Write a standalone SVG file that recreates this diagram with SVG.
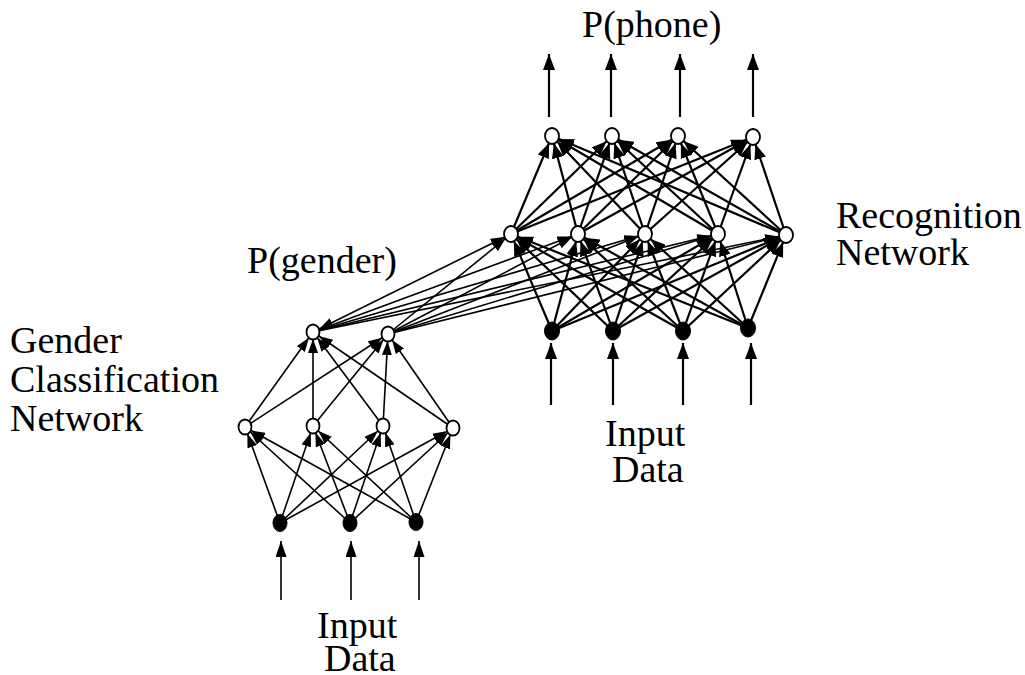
<svg xmlns="http://www.w3.org/2000/svg" width="1025" height="675" viewBox="0 0 1025 675">
<style>
.t{font-family:"Liberation Serif","Times New Roman",serif;font-size:38px;fill:#000}
.c line{stroke:#000;fill:none}
.g line{stroke-width:1.6}
.r line{stroke-width:2.2}
.x line{stroke-width:1.6}
.on{fill:#fff;stroke:#000;stroke-width:1.8}
.fn{fill:#000;stroke:#000;stroke-width:1}
</style>
<defs>
<marker id="ah" markerUnits="userSpaceOnUse" markerWidth="15" markerHeight="12" viewBox="0 0 15 12" refX="22.5" refY="6" orient="auto"><path d="M0,0 L15,6 L0,12 z" fill="#000"/></marker>
<marker id="ahg" markerUnits="userSpaceOnUse" markerWidth="14" markerHeight="10" viewBox="0 0 14 10" refX="21" refY="5" orient="auto"><path d="M0,0 L14,5 L0,10 z" fill="#000"/></marker>
<marker id="ahr" markerUnits="userSpaceOnUse" markerWidth="14" markerHeight="10" viewBox="0 0 14 10" refX="21" refY="5" orient="auto-start-reverse"><path d="M0,0 L14,5 L0,10 z" fill="#000"/></marker>
<marker id="tip" markerUnits="userSpaceOnUse" markerWidth="16" markerHeight="12" viewBox="0 0 16 12" refX="16" refY="6" orient="auto"><path d="M0,0 L16,6 L0,12 z" fill="#000"/></marker>
<marker id="tipg" markerUnits="userSpaceOnUse" markerWidth="16" markerHeight="11" viewBox="0 0 16 11" refX="16" refY="5.5" orient="auto"><path d="M0,0 L16,5.5 L0,11 z" fill="#000"/></marker>
</defs>
<rect width="1025" height="675" fill="#fff"/>
<g id="connectors" class="c">
<g class="g" marker-end="url(#ahg)">
<line x1="280" y1="523" x2="245" y2="427"/><line x1="280" y1="523" x2="313" y2="426"/><line x1="280" y1="523" x2="383" y2="426"/><line x1="280" y1="523" x2="453" y2="428"/>
<line x1="350" y1="523" x2="245" y2="427"/><line x1="350" y1="523" x2="313" y2="426"/><line x1="350" y1="523" x2="383" y2="426"/><line x1="350" y1="523" x2="453" y2="428"/>
<line x1="416" y1="522" x2="245" y2="427"/><line x1="416" y1="522" x2="313" y2="426"/><line x1="416" y1="522" x2="383" y2="426"/><line x1="416" y1="522" x2="453" y2="428"/>
<line x1="245" y1="427" x2="313" y2="332"/><line x1="245" y1="427" x2="388" y2="334"/>
<line x1="313" y1="426" x2="313" y2="332"/><line x1="313" y1="426" x2="388" y2="334"/>
<line x1="383" y1="426" x2="313" y2="332"/><line x1="383" y1="426" x2="388" y2="334"/>
<line x1="453" y1="428" x2="313" y2="332"/><line x1="453" y1="428" x2="388" y2="334"/>
</g>
<g class="g" marker-end="url(#tipg)">
<line x1="281" y1="600" x2="281" y2="541"/><line x1="351" y1="600" x2="351" y2="541"/><line x1="419" y1="600" x2="419" y2="541"/>
</g>
<g class="x" marker-end="url(#ahg)">
<line x1="313" y1="332" x2="511" y2="234" marker-start="url(#ahr)"/><line x1="313" y1="332" x2="578" y2="234"/><line x1="313" y1="332" x2="645" y2="234"/><line x1="313" y1="332" x2="718" y2="234"/><line x1="313" y1="332" x2="786" y2="235"/>
<line x1="388" y1="334" x2="511" y2="234"/><line x1="388" y1="334" x2="578" y2="234"/><line x1="388" y1="334" x2="645" y2="234"/><line x1="388" y1="334" x2="718" y2="234"/><line x1="388" y1="334" x2="786" y2="235"/>
</g>
<g class="r" marker-end="url(#ah)">
<line x1="552" y1="331" x2="511" y2="234"/><line x1="552" y1="331" x2="578" y2="234"/><line x1="552" y1="331" x2="645" y2="234"/><line x1="552" y1="331" x2="718" y2="234"/><line x1="552" y1="331" x2="786" y2="235"/>
<line x1="613" y1="331" x2="511" y2="234"/><line x1="613" y1="331" x2="578" y2="234"/><line x1="613" y1="331" x2="645" y2="234"/><line x1="613" y1="331" x2="718" y2="234"/><line x1="613" y1="331" x2="786" y2="235"/>
<line x1="683" y1="331" x2="511" y2="234"/><line x1="683" y1="331" x2="578" y2="234"/><line x1="683" y1="331" x2="645" y2="234"/><line x1="683" y1="331" x2="718" y2="234"/><line x1="683" y1="331" x2="786" y2="235"/>
<line x1="748" y1="328" x2="511" y2="234"/><line x1="748" y1="328" x2="578" y2="234"/><line x1="748" y1="328" x2="645" y2="234"/><line x1="748" y1="328" x2="718" y2="234"/><line x1="748" y1="328" x2="786" y2="235"/>
<line x1="511" y1="234" x2="552" y2="136"/><line x1="511" y1="234" x2="612" y2="136"/><line x1="511" y1="234" x2="678" y2="136"/><line x1="511" y1="234" x2="753" y2="137"/>
<line x1="578" y1="234" x2="552" y2="136"/><line x1="578" y1="234" x2="612" y2="136"/><line x1="578" y1="234" x2="678" y2="136"/><line x1="578" y1="234" x2="753" y2="137"/>
<line x1="645" y1="234" x2="552" y2="136"/><line x1="645" y1="234" x2="612" y2="136"/><line x1="645" y1="234" x2="678" y2="136"/><line x1="645" y1="234" x2="753" y2="137"/>
<line x1="718" y1="234" x2="552" y2="136"/><line x1="718" y1="234" x2="612" y2="136"/><line x1="718" y1="234" x2="678" y2="136"/><line x1="718" y1="234" x2="753" y2="137"/>
<line x1="786" y1="235" x2="552" y2="136"/><line x1="786" y1="235" x2="612" y2="136"/><line x1="786" y1="235" x2="678" y2="136"/><line x1="786" y1="235" x2="753" y2="137"/>
</g>
<g class="r" marker-end="url(#tip)">
<line x1="549" y1="117" x2="549" y2="54"/><line x1="611" y1="117" x2="611" y2="54"/><line x1="680" y1="117" x2="680" y2="54"/><line x1="753" y1="117" x2="753" y2="54"/>
<line x1="551" y1="405" x2="551" y2="343"/><line x1="613" y1="405" x2="613" y2="343"/><line x1="683" y1="405" x2="683" y2="343"/><line x1="751" y1="405" x2="751" y2="343"/>
</g>
</g>
<g id="gi1"><ellipse class="fn" cx="280" cy="523" rx="7" ry="8.5"/></g>
<g id="gi2"><ellipse class="fn" cx="350" cy="523" rx="7" ry="8.5"/></g>
<g id="gi3"><ellipse class="fn" cx="416" cy="522" rx="7" ry="8.5"/></g>
<g id="gh1"><ellipse class="on" cx="245" cy="427" rx="6.5" ry="7.5"/></g>
<g id="gh2"><ellipse class="on" cx="313" cy="426" rx="6.5" ry="7.5"/></g>
<g id="gh3"><ellipse class="on" cx="383" cy="426" rx="6.5" ry="7.5"/></g>
<g id="gh4"><ellipse class="on" cx="453" cy="428" rx="6.5" ry="7.5"/></g>
<g id="go1"><ellipse class="on" cx="313" cy="332" rx="6.5" ry="7.5"/></g>
<g id="go2"><ellipse class="on" cx="388" cy="334" rx="6.5" ry="7.5"/></g>
<g id="ri1"><ellipse class="fn" cx="552" cy="331" rx="7.5" ry="9"/></g>
<g id="ri2"><ellipse class="fn" cx="613" cy="331" rx="7.5" ry="9"/></g>
<g id="ri3"><ellipse class="fn" cx="683" cy="331" rx="7.5" ry="9"/></g>
<g id="ri4"><ellipse class="fn" cx="748" cy="328" rx="7.5" ry="9"/></g>
<g id="rh1"><ellipse class="on" cx="511" cy="234" rx="7" ry="8"/></g>
<g id="rh2"><ellipse class="on" cx="578" cy="234" rx="7" ry="8"/></g>
<g id="rh3"><ellipse class="on" cx="645" cy="234" rx="7" ry="8"/></g>
<g id="rh4"><ellipse class="on" cx="718" cy="234" rx="7" ry="8"/></g>
<g id="rh5"><ellipse class="on" cx="786" cy="235" rx="7" ry="8"/></g>
<g id="ro1"><ellipse class="on" cx="552" cy="136" rx="7" ry="8"/></g>
<g id="ro2"><ellipse class="on" cx="612" cy="136" rx="7" ry="8"/></g>
<g id="ro3"><ellipse class="on" cx="678" cy="136" rx="7" ry="8"/></g>
<g id="ro4"><ellipse class="on" cx="753" cy="137" rx="7" ry="8"/></g>
<g id="labels">
<text class="t" x="582" y="37">P(phone)</text>
<text class="t" x="247" y="273">P(gender)</text>
<text class="t" x="836" y="228">Recognition</text>
<text class="t" x="836" y="265">Network</text>
<text class="t" x="10" y="353">Gender</text>
<text class="t" x="10" y="392">Classification</text>
<text class="t" x="10" y="431">Network</text>
<text class="t" x="605" y="446">Input</text>
<text class="t" x="612" y="482">Data</text>
<text class="t" x="317" y="638">Input</text>
<text class="t" x="324" y="671">Data</text>
</g>
</svg>
